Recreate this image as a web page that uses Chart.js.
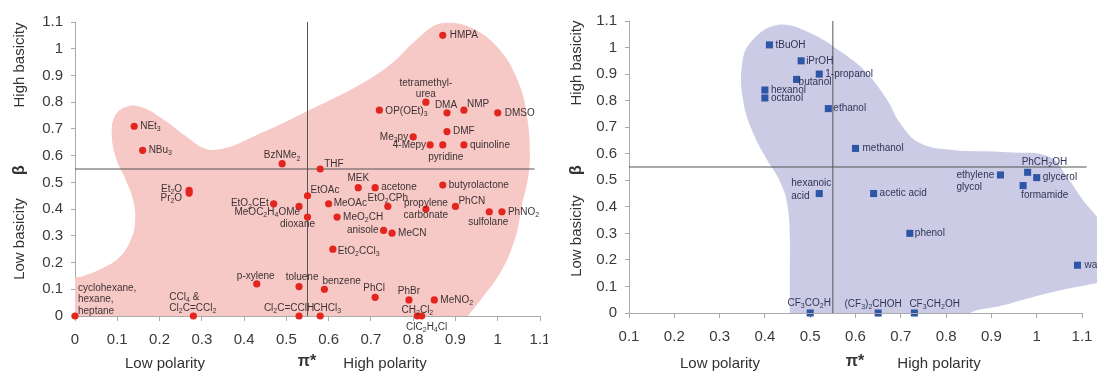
<!DOCTYPE html>
<html><head><meta charset="utf-8">
<script src="https://cdn.jsdelivr.net/npm/chart.js@4.4.1/dist/chart.umd.min.js"></script>
<style>
html,body{margin:0;padding:0;background:#fff;width:1097px;height:376px;overflow:hidden;position:relative;}
#c1{position:absolute;left:0;top:0;}
#c2{position:absolute;left:548px;top:0;}
</style></head><body>
<canvas id="c1" width="548" height="376"></canvas>
<canvas id="c2" width="549" height="376"></canvas>
<script>
// ---------------- DATA ----------------
const aproticNames = ['cyclohexane,\nhexane,\nheptane','CCl_4 &\nCl_2C=CCl_2','Cl_2C=CClH','CHCl_3','CH_2Cl_2','ClC_2H_4Cl',
  'p-xylene','toluene','benzene','PhCl','PhBr','MeNO_2','EtO_2CCl_3','anisole','MeCN','MeO_2CH','dioxane',
  'MeOC_2H_4OMe','EtO_2CEt','MeOAc','EtO_2CPh','propylene\ncarbonate','PhCN','sulfolane','PhNO_2','EtOAc','MEK',
  'acetone','butyrolactone','Et_2O','Pr_2O','THF','BzNMe_2','NEt_3','NBu_3','4-Mepy','pyridine','quinoline',
  'Me_2py','DMF','OP(OEt)_3','tetramethyl-\nurea','DMA','NMP','DMSO','HMPA'];
const aproticPi = [0,0.28,0.53,0.58,0.81,0.82,
  0.43,0.53,0.59,0.71,0.79,0.85,0.61,0.73,0.75,0.62,0.55,
  0.53,0.47,0.60,0.74,0.83,0.90,0.98,1.01,0.55,0.67,
  0.71,0.87,0.27,0.27,0.58,0.49,0.14,0.16,0.84,0.87,0.92,
  0.80,0.88,0.72,0.83,0.88,0.92,1.00,0.87];
const aproticBeta = [0,0,0,0,0,0,
  0.12,0.11,0.10,0.07,0.06,0.06,0.25,0.32,0.31,0.37,0.37,
  0.41,0.42,0.42,0.41,0.40,0.41,0.39,0.39,0.45,0.48,
  0.48,0.49,0.47,0.46,0.55,0.57,0.71,0.62,0.64,0.64,0.64,
  0.67,0.69,0.77,0.80,0.76,0.77,0.76,1.05];

const proticNames = ['tBuOH','iPrOH','1-propanol','butanol','hexanol','octanol','ethanol','methanol',
  'hexanoic\nacid','acetic acid','ethylene\nglycol','PhCH_2OH','glycerol','formamide','phenol','water',
  'CF_3CO_2H','(CF_3)_2CHOH','CF_3CH_2OH'];
const proticPi = [0.41,0.48,0.52,0.47,0.40,0.40,0.54,0.60,0.52,0.64,0.92,0.98,1.00,0.97,0.72,1.09,0.50,0.65,0.73];
const proticBeta = [1.01,0.95,0.90,0.88,0.84,0.81,0.77,0.62,0.45,0.45,0.52,0.53,0.51,0.48,0.30,0.18,0,0,0];

const yTickValues = [0,0.1,0.2,0.3,0.4,0.5,0.6,0.7,0.8,0.9,1,1.1];
const leftXTickValues = [0,0.1,0.2,0.3,0.4,0.5,0.6,0.7,0.8,0.9,1,1.1];
const rightXTickValues = [0.1,0.2,0.3,0.4,0.5,0.6,0.7,0.8,0.9,1,1.1];

// region outlines (pi*, beta)
const aproticRegionPi = [-0.05,-0.03,0.02,0.06,0.106,0.132,0.142,0.138,0.12,0.097,0.087,0.095,0.125,0.16,0.205,0.265,0.31,0.36,0.42,0.49,0.58,0.65,0.71,0.76,0.805,0.865,0.935,1.005,1.05,1.07,1.076,1.07,1.058,1.043,1.01,0.965,0.93,0.91,-0.05];
const aproticRegionBeta = [-0.05,0.125,0.15,0.175,0.221,0.285,0.35,0.43,0.51,0.59,0.68,0.75,0.785,0.78,0.74,0.67,0.625,0.63,0.67,0.72,0.79,0.845,0.9,0.96,1.03,1.095,1.08,0.995,0.87,0.74,0.595,0.5,0.42,0.3,0.172,0.071,0.0,-0.05,-0.05];
const proticRegionPi = [0.455,0.455,0.455,0.455,0.449,0.432,0.405,0.374,0.352,0.349,0.367,0.427,0.50,0.572,0.625,0.67,0.698,0.742,0.815,0.934,1.029,1.067,1.102,1.133,1.17,1.17,1.133,1.036,0.919,0.853,0.83,0.455];
const proticRegionBeta = [-0.05,0.05,0.16,0.286,0.414,0.5,0.576,0.678,0.80,0.927,1.017,1.085,1.055,0.979,0.904,0.802,0.716,0.64,0.614,0.606,0.588,0.512,0.426,0.362,0.27,0.12,0.112,0.079,0.026,0.0,-0.05,-0.05];

const dividerPi = 0.55, dividerBeta = 0.55;
const leftDividerEnds = {xEnd:1.087, yEnd:1.1};
const rightDividerEnds = {xStart:0.1, xEnd:1.11, yEnd:1.1};

// ---------------- LABEL PLACEMENT (px offsets, align) ----------------
const aproticPlace = [[3,-28,'left'],[-24,-19,'left'],[-10,-8,'center'],[7,-8,'center'],[0,-6,'center'],[5,11,'center'],
  [-1,-8,'center'],[3,-9,'center'],[-2,-8,'left'],[-1,-9,'center'],[0,-9,'center'],[6,0,'left'],[5,2,'left'],[-5,0,'right'],[6,0,'left'],[6,0,'left'],[-10,7,'center'],
  [1,6,'right'],[-5,0,'right'],[5,0,'left'],[0,-8,'center'],[0,-6,'center'],[3,-5,'left'],[-1,10,'center'],[6,0,'left'],[3,-5,'left'],[0,-9,'center'],
  [6,0,'left'],[6,0,'left'],[-7,-1,'right'],[-7,5,'right'],[4,-5,'left'],[0,-8,'center'],[6,0,'left'],[6,0,'left'],[-4,0,'right'],[3,12,'center'],[6,0,'left'],
  [-5,0,'right'],[6,0,'left'],[6,1,'left'],[0,-19,'center'],[-1,-8,'center'],[3,-6,'left'],[7,0,'left'],[7,0,'left']];
const aproticLineGap = {0:11.5, 1:11, 21:12, 41:11};
const proticPlace = [[6,0,'left'],[5,0,'left'],[6,0,'left'],[2,3,'left'],[6,0,'left'],[6,0,'left'],[5,0,'left'],[7,0,'left'],
  [-28,-10,'left'],[6,0,'left'],[-44,0,'left'],[-6,-10,'left'],[6,0,'left'],[-2,10,'left'],[5,0,'left'],[7,0,'left'],
  [-1,-10,'center'],[-5,-9,'center'],[-5,-9,'left']];
const proticLineGap = {8:13, 10:12};

const FAM = '"Liberation Sans", Arial, Helvetica, sans-serif';

function drawRich(ctx, text, x, y, align, size) {
  const segs = [];
  for (let i = 0; i < text.length; i++) {
    const ch = text[i];
    if (ch === '_' && i + 1 < text.length) { segs.push({t: text[i+1], sub: true}); i++; }
    else if (segs.length && !segs[segs.length-1].sub) segs[segs.length-1].t += ch;
    else segs.push({t: ch, sub: false});
  }
  const mainF = size + 'px ' + FAM, subF = Math.round(size * 0.7) + 'px ' + FAM;
  let w = 0;
  for (const s of segs) { ctx.font = s.sub ? subF : mainF; s.w = ctx.measureText(s.t).width; w += s.w; }
  let cx = align === 'left' ? x : align === 'right' ? x - w : x - w / 2;
  ctx.textAlign = 'left'; ctx.textBaseline = 'middle';
  for (const s of segs) { ctx.font = s.sub ? subF : mainF; ctx.fillText(s.t, cx, s.sub ? y + size * 0.3 : y); cx += s.w; }
}

function labelPlugin(names, xs, ys, place, gaps, color) {
  return { id: 'ptLabels', afterDatasetsDraw(chart) {
    const ctx = chart.ctx, sx = chart.scales.x, sy = chart.scales.y;
    ctx.save(); ctx.fillStyle = color;
    names.forEach((name, i) => {
      const [dx, dy, align] = place[i];
      const px = sx.getPixelForValue(xs[i]), py = sy.getPixelForValue(ys[i]);
      const gap = gaps[i] || 11.5;
      name.split('\n').forEach((line, k) => drawRich(ctx, line, px + dx, py + dy + k * gap, align, 10));
    });
    ctx.restore();
  }};
}

function titlesPlugin(items) {
  return { id: 'titles', afterDraw(chart) {
    const ctx = chart.ctx;
    for (const it of items) {
      ctx.save(); ctx.translate(it.x, it.y); if (it.rot) ctx.rotate(-Math.PI / 2);
      ctx.font = it.font; ctx.fillStyle = '#333'; ctx.textAlign = 'center'; ctx.textBaseline = 'middle';
      ctx.fillText(it.text, 0, 0); ctx.restore();
    }
  }};
}

function xAxisLinePlugin(fromV, toV) {
  return { id: 'xAxisLine', afterDatasetsDraw(chart) {
    const ctx = chart.ctx, sx = chart.scales.x, sy = chart.scales.y;
    const y = Math.round(sy.getPixelForValue(0)) + 0.5;
    ctx.save(); ctx.strokeStyle = '#aaa'; ctx.lineWidth = 1; ctx.beginPath();
    ctx.moveTo(sx.getPixelForValue(fromV), y); ctx.lineTo(sx.getPixelForValue(toV), y); ctx.stroke(); ctx.restore();
  }};
}

const toXY = (xs, ys) => xs.map((v, i) => ({x: v, y: ys[i]}));
const fmt = v => String(+(+v).toFixed(1));

function makeChart(canvas, cfg) {
  return new Chart(canvas, {
    type: 'scatter',
    data: { datasets: [
      { type: 'line', data: toXY(cfg.regionX, cfg.regionY), fill: 'shape', backgroundColor: cfg.regionColor,
        borderWidth: 0, borderColor: 'rgba(0,0,0,0)', pointRadius: 0, tension: 0.4, order: 3 },
      { type: 'line', data: [{x: cfg.hx0, y: dividerBeta}, {x: cfg.hx1, y: dividerBeta}], borderColor: '#555',
        borderWidth: 1, pointRadius: 0, fill: false, tension: 0, order: 2, clip: false },
      { type: 'line', data: [{x: dividerPi, y: 0}, {x: dividerPi, y: cfg.vy1}], borderColor: '#555',
        borderWidth: 1, pointRadius: 0, fill: false, tension: 0, order: 2, clip: false },
      { data: toXY(cfg.px, cfg.py), pointStyle: cfg.pointStyle, pointRadius: cfg.pointRadius,
        backgroundColor: cfg.pointColor, borderWidth: 0, order: 1, clip: false }
    ]},
    options: {
      responsive: false, animation: false, events: [], devicePixelRatio: 1,
      layout: { autoPadding: false, padding: Object.assign({}, cfg.padding) },
      plugins: { legend: {display: false}, tooltip: {enabled: false} },
      scales: {
        x: { type: 'linear', min: cfg.xmin, max: cfg.xmax, z: 1,
          afterBuildTicks: s => { s.ticks = cfg.xTicks.map(v => ({value: v})); },
          afterFit: s => { s.height = cfg.xAxisH; s.paddingLeft = 0; s.paddingRight = 0; },
          ticks: { callback: fmt, autoSkip: false, maxRotation: 0, font: {family: FAM, size: 15}, color: '#3a3a3a', padding: 10 },
          grid: { drawOnChartArea: false, drawTicks: true, tickLength: 5, color: '#aaa' },
          border: { display: cfg.xBorder, color: '#aaa' } },
        y: { type: 'linear', min: 0, max: 1.1, z: 1,
          afterBuildTicks: s => { s.ticks = yTickValues.map(v => ({value: v})); },
          afterFit: s => { s.width = cfg.yAxisW; s.paddingTop = 0; s.paddingBottom = 0; },
          ticks: { callback: fmt, autoSkip: false, font: {family: FAM, size: 15}, color: '#3a3a3a', padding: 8 },
          grid: { drawOnChartArea: false, drawTicks: true, tickLength: 4, color: '#aaa' },
          border: { display: true, color: '#aaa' } }
      }
    },
    plugins: cfg.plugins
  });
}

const F15 = '15px ' + FAM, B16 = 'bold 16px ' + FAM;

makeChart(document.getElementById('c1'), {
  regionX: aproticRegionPi, regionY: aproticRegionBeta, regionColor: '#f6c8c6',
  hx0: 0, hx1: leftDividerEnds.xEnd, vy1: leftDividerEnds.yEnd,
  px: aproticPi, py: aproticBeta, pointStyle: 'circle', pointRadius: 3.6, pointColor: '#e2251e',
  padding: {top: 22, right: 8, left: 0, bottom: 0},
  xmin: 0, xmax: 1.1, xTicks: leftXTickValues,
  xAxisH: 60, yAxisW: 75, xBorder: true,
  plugins: [
    labelPlugin(aproticNames, aproticPi, aproticBeta, aproticPlace, aproticLineGap, '#3d3333'),
    titlesPlugin([
      {text: 'High basicity', x: 20, y: 65, rot: true, font: F15},
      {text: 'β', x: 20, y: 170, rot: true, font: B16},
      {text: 'Low basicity', x: 20, y: 239, rot: true, font: F15},
      {text: 'Low polarity', x: 165, y: 364, font: F15},
      {text: 'π*', x: 307, y: 362, font: B16},
      {text: 'High polarity', x: 385, y: 364, font: F15}
    ])
  ]
});

makeChart(document.getElementById('c2'), {
  regionX: proticRegionPi, regionY: proticRegionBeta, regionColor: '#cbcbe5',
  hx0: rightDividerEnds.xStart, hx1: rightDividerEnds.xEnd, vy1: rightDividerEnds.yEnd,
  px: proticPi, py: proticBeta, pointStyle: 'rect', pointRadius: 5, pointColor: '#2f56a6',
  padding: {top: 21, right: 0, left: 0, bottom: 0},
  xmin: 0.1, xmax: 1.1 + 15 / 453, xTicks: rightXTickValues,
  xAxisH: 63, yAxisW: 81, xBorder: false,
  plugins: [
    labelPlugin(proticNames, proticPi, proticBeta, proticPlace, proticLineGap, '#2f3558'),
    xAxisLinePlugin(0.1, 1.1),
    titlesPlugin([
      {text: 'High basicity', x: 29, y: 63, rot: true, font: F15},
      {text: 'β', x: 29, y: 170, rot: true, font: B16},
      {text: 'Low basicity', x: 29, y: 236, rot: true, font: F15},
      {text: 'Low polarity', x: 172, y: 364, font: F15},
      {text: 'π*', x: 307, y: 362, font: B16},
      {text: 'High polarity', x: 391, y: 364, font: F15}
    ])
  ]
});
</script>
</body></html>
